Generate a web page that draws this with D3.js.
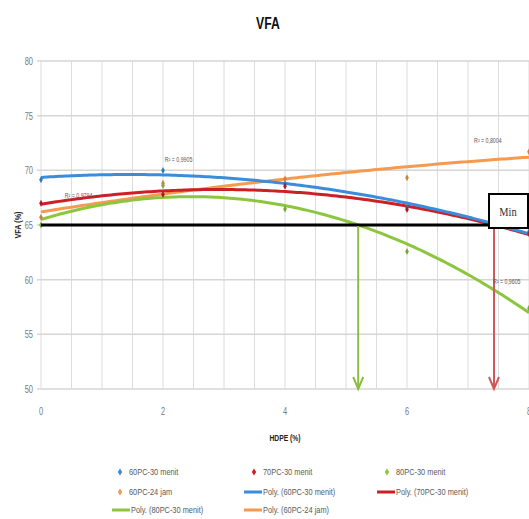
<!DOCTYPE html>
<html><head><meta charset="utf-8">
<script src="https://cdn.jsdelivr.net/npm/d3@7"></script>
<style>
html,body{margin:0;padding:0;background:#fff;}
text{font-family:"Liberation Sans Narrow","Liberation Sans",Arial,sans-serif;}
</style></head>
<body><svg id="c" width="529" height="519"></svg>
<script>
// ---- data ----
const hdpe = [0, 2, 4, 6, 8];
const pc60_30 = [69.15, 69.98, 68.8, 66.6, 64.4];
const pc70_30 = [66.98, 67.79, 68.54, 66.41, 64.2];
const pc80_30 = [65.0, 68.62, 66.47, 62.57, 57.38];
const pc60_24 = [65.7, 68.83, 69.2, 69.33, 71.7];
const seriesNames = ["60PC-30 menit", "70PC-30 menit", "80PC-30 menit", "60PC-24 jam"];
const trendNames = ["Poly. (60PC-30 menit)", "Poly. (70PC-30 menit)", "Poly. (80PC-30 menit)", "Poly. (60PC-24 jam)"];
const r2Labels = ["R² = 0,9905", "R² = 0,9794", "R² = 0,9605", "R² = 0,8004"];
const minVFA = 65;
const yTicks = [50, 55, 60, 65, 70, 75, 80];
const xTicks = [0, 2, 4, 6, 8];

const colors = ["#3a8ddb", "#cc1f26", "#8cc63f", "#f59a4e"];
const allSeries = [pc60_30, pc70_30, pc80_30, pc60_24];

const svg = d3.select("#c");
const x = d3.scaleLinear([0, 8], [41, 529]);
const y = d3.scaleLinear([50, 80], [389, 61]);

// condensed text helper
function ctext(parent, tx, ty, str, size, sx, anchor, opts = {}) {
  const t = parent.append("text")
    .attr("transform", `translate(${tx},${ty}) scale(${sx},1)`)
    .attr("text-anchor", anchor || "start")
    .attr("font-size", size).text(str);
  if (opts.fill) t.attr("fill", opts.fill);
  if (opts.bold) t.attr("font-weight", "bold");
  if (opts.family) t.style("font-family", opts.family);
  return t;
}

// quadratic least squares
function polyfit2(xs, ys) {
  let S = [0,0,0,0,0], T = [0,0,0];
  xs.forEach((xi, i) => {
    for (let k = 0; k < 5; k++) S[k] += Math.pow(xi, k);
    for (let k = 0; k < 3; k++) T[k] += ys[i] * Math.pow(xi, k);
  });
  const M = [[S[0],S[1],S[2],T[0]],[S[1],S[2],S[3],T[1]],[S[2],S[3],S[4],T[2]]];
  for (let i = 0; i < 3; i++) {
    let p = i; for (let r = i+1; r < 3; r++) if (Math.abs(M[r][i]) > Math.abs(M[p][i])) p = r;
    [M[i], M[p]] = [M[p], M[i]];
    for (let r = 0; r < 3; r++) if (r !== i) {
      const f = M[r][i] / M[i][i];
      for (let c = i; c < 4; c++) M[r][c] -= f * M[i][c];
    }
  }
  const co = M.map((row, i) => row[3] / row[i]);
  return v => co[0] + co[1]*v + co[2]*v*v;
}
const fits = allSeries.map(s => polyfit2(hdpe, s));

// grid
const g = svg.append("g");
g.selectAll(".vg").data(d3.range(0, 8.01, 0.5)).join("line")
  .attr("x1", d => x(d)).attr("x2", d => x(d)).attr("y1", y(80)).attr("y2", y(50))
  .attr("stroke", "#dcdcdc").attr("stroke-width", 1);
g.selectAll(".hg").data(yTicks).join("line")
  .attr("x1", x(0) - 4).attr("x2", x(8)).attr("y1", d => y(d)).attr("y2", d => y(d))
  .attr("stroke", "#d6d6d6").attr("stroke-width", 1.5);

// tick labels
yTicks.forEach(d => ctext(g, 33, y(d) + 4, d, 10, 0.75, "end", {fill: "#7a7a7a"}));
xTicks.forEach(d => ctext(g, x(d), 415, d, 10, 0.75, "middle", {fill: "#7a7a7a"}));

// titles
ctext(svg, 268, 29, "VFA", 17, 0.72, "middle", {fill: "#111", bold: true});
svg.append("text").attr("transform", "translate(21,225) rotate(-90) scale(0.8,1)").attr("text-anchor", "middle")
  .attr("font-size", 9).attr("font-weight", "bold").attr("fill", "#222").text("VFA (%)");
ctext(svg, 285, 441, "HDPE (%)", 9, 0.75, "middle", {fill: "#222", bold: true});

// trend curves
const xs = d3.range(0, 8.001, 0.05);
const line = d3.line().x(d => x(d[0])).y(d => y(d[1]));
[3, 2, 1, 0].forEach(i => {
  svg.append("path").attr("d", line(xs.map(v => [v, fits[i](v)])))
    .attr("fill", "none").attr("stroke", colors[i]).attr("stroke-width", 3);
});

// markers
const diamond = (cx, cy, w, h) => `M${cx},${cy-h}L${cx+w},${cy}L${cx},${cy+h}L${cx-w},${cy}Z`;
allSeries.forEach((s, i) => {
  svg.selectAll(null).data(s).join("path")
    .attr("d", (d, j) => diamond(x(hdpe[j]), y(d), 1.8, 3.5))
    .attr("fill", d3.color(colors[i]).darker(0.5));
});

// min line
svg.append("line").attr("x1", x(0)).attr("x2", x(8)).attr("y1", y(minVFA)).attr("y2", y(minVFA))
  .attr("stroke", "#000").attr("stroke-width", 3);

// arrows at the crossing of min line
function root(f) {
  let lo = 3, hi = 8;
  for (let k = 0; k < 60; k++) { const m = (lo+hi)/2; if (f(m) > minVFA) lo = m; else hi = m; }
  return (lo+hi)/2;
}
[[2, "#8cbd3f"], [1, "#d2575a"]].forEach(([i, col]) => {
  const xr = x(root(fits[i]));
  svg.append("line").attr("x1", xr).attr("x2", xr).attr("y1", y(minVFA) + 1).attr("y2", y(50))
    .attr("stroke", col).attr("stroke-width", 2);
  svg.append("path").attr("d", `M${xr-5},${y(50)-12}L${xr},${y(50)}L${xr+5},${y(50)-12}`)
    .attr("fill", "none").attr("stroke", col).attr("stroke-width", 2);
});

// Min box
svg.append("rect").attr("x", 489).attr("y", 194).attr("width", 39).attr("height", 34)
  .attr("fill", "#fff").attr("stroke", "#000").attr("stroke-width", 2);
ctext(svg, 508, 216, "Min", 13, 0.8, "middle", {fill: "#333", family: "'Liberation Serif',serif"});

// R² labels
const r2Pos = [[2.03, 70.8], [0.39, 67.5], [7.41, 59.6], [7.1, 72.5]];
r2Labels.forEach((t, i) => {
  ctext(svg, x(r2Pos[i][0]), y(r2Pos[i][1]), t, 7, 0.75, "start", {fill: "#555"});
});

// legend
const leg = svg.append("g").attr("fill", "#595959");
const legItems = [
  {type: "m", c: 0, t: seriesNames[0], x: 120, y: 472},
  {type: "m", c: 1, t: seriesNames[1], x: 254, y: 472},
  {type: "m", c: 2, t: seriesNames[2], x: 387, y: 472},
  {type: "m", c: 3, t: seriesNames[3], x: 120, y: 492},
  {type: "l", c: 0, t: trendNames[0], x: 253, y: 492},
  {type: "l", c: 1, t: trendNames[1], x: 386, y: 492},
  {type: "l", c: 2, t: trendNames[2], x: 121, y: 510},
  {type: "l", c: 3, t: trendNames[3], x: 253, y: 510}
];
legItems.forEach(it => {
  if (it.type === "m") {
    leg.append("path").attr("d", diamond(it.x, it.y, 2.2, 3.5)).attr("fill", colors[it.c]);
    ctext(leg, it.x + 9, it.y + 3, it.t, 9.5, 0.78, "start");
  } else {
    leg.append("line").attr("x1", it.x - 9).attr("x2", it.x + 9).attr("y1", it.y).attr("y2", it.y)
      .attr("stroke", colors[it.c]).attr("stroke-width", 3);
    ctext(leg, it.x + 10, it.y + 3, it.t, 9.5, 0.78, "start");
  }
});
</script></body></html>
